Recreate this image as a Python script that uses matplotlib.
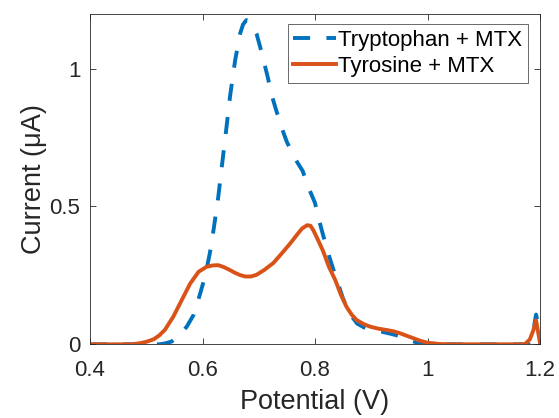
import matplotlib
matplotlib.use("Agg")
import matplotlib.pyplot as plt

# Tryptophan + MTX (dashed blue)
trp_x = [0.40, 0.50, 0.515, 0.524, 0.535, 0.545, 0.558, 0.572, 0.584, 0.596, 0.601, 0.607,
         0.613, 0.62, 0.628, 0.635, 0.642, 0.649, 0.658, 0.667, 0.672, 0.678, 0.685, 0.69,
         0.696, 0.705, 0.716, 0.723, 0.731, 0.741, 0.750, 0.764, 0.778, 0.789, 0.80, 0.806,
         0.812, 0.822, 0.832, 0.841, 0.85, 0.862, 0.875, 0.89, 0.905, 0.92, 0.935, 0.95,
         0.965, 0.985, 1.0, 1.05, 1.10, 1.15, 1.178, 1.184, 1.189, 1.193, 1.197, 1.20]
trp_y = [0.0, 0.0, 0.0, 0.0, 0.004, 0.01, 0.03, 0.064, 0.106, 0.185, 0.221, 0.27,
         0.33, 0.42, 0.534, 0.656, 0.776, 0.90, 1.03, 1.128, 1.16, 1.176, 1.168, 1.15,
         1.127, 1.06, 0.969, 0.904, 0.849, 0.784, 0.734, 0.675, 0.629, 0.566, 0.513, 0.46,
         0.414, 0.34, 0.275, 0.22, 0.165, 0.11, 0.075, 0.058, 0.05, 0.045, 0.038, 0.03,
         0.018, 0.003, 0.0, 0.0, 0.0, 0.0, 0.0, 0.02, 0.06, 0.108, 0.07, 0.02]

# Tyrosine + MTX (solid orange)
tyr_x = [0.40, 0.475, 0.489, 0.50, 0.513, 0.523, 0.533, 0.548, 0.563, 0.578, 0.593, 0.607,
         0.618, 0.628, 0.638, 0.649, 0.658, 0.667, 0.676, 0.686, 0.696, 0.71, 0.726,
         0.741, 0.756, 0.767, 0.777, 0.786, 0.792, 0.797, 0.805, 0.814, 0.825, 0.836, 0.846,
         0.856, 0.865, 0.874, 0.886, 0.898, 0.912, 0.927, 0.94, 0.951, 0.963, 0.975, 0.987,
         0.999, 1.022, 1.05, 1.10, 1.15, 1.173, 1.182, 1.188, 1.193, 1.197, 1.20]
tyr_y = [0.0, 0.0, 0.004, 0.009, 0.018, 0.032, 0.052, 0.10, 0.16, 0.22, 0.263, 0.281,
         0.286, 0.287, 0.28, 0.269, 0.259, 0.251, 0.246, 0.246, 0.252, 0.27, 0.295,
         0.33, 0.366, 0.395, 0.42, 0.432, 0.43, 0.414, 0.38, 0.34, 0.28, 0.233, 0.18,
         0.136, 0.108, 0.088, 0.074, 0.064, 0.057, 0.052, 0.047, 0.04, 0.031, 0.022, 0.013,
         0.006, 0.001, 0.0, 0.0, 0.0, 0.0, 0.018, 0.05, 0.087, 0.04, 0.005]

xticks = [0.4, 0.6, 0.8, 1.0, 1.2]
xticklabels = ["0.4", "0.6", "0.8", "1", "1.2"]
yticks = [0, 0.5, 1.0]
yticklabels = ["0", "0.5", "1"]

plt.rcParams["font.family"] = ["Liberation Sans", "DejaVu Sans"]
TXT = "#262626"

fig = plt.figure(figsize=(5.59, 4.18), dpi=100)
ax = fig.add_axes([90 / 559, (418 - 344.3) / 418, 450 / 559, 330.8 / 418])

ax.plot(trp_x, trp_y, color="#0072BD", lw=2.8, ls=(0, (4.4, 4.2)),
        label="Tryptophan + MTX")
ax.plot(tyr_x, tyr_y, color="#D95319", lw=2.8, label="Tyrosine + MTX")

ax.set_xlim(0.4, 1.2)
ax.set_ylim(0, 1.2)
ax.set_xticks(xticks)
ax.set_xticklabels(xticklabels)
ax.set_yticks(yticks)
ax.set_yticklabels(yticklabels)
ax.tick_params(direction="in", length=4, width=0.6, colors=TXT, labelsize=16,
               top=True, right=True)
ax.tick_params(axis="x", pad=11)
ax.tick_params(axis="y", pad=7)
for s in ax.spines.values():
    s.set_color(TXT)
    s.set_linewidth(0.6)

ax.set_xlabel("Potential (V)", fontsize=19.5, color=TXT, labelpad=6)
ax.set_ylabel("Current (μA)", fontsize=19.5, color=TXT, labelpad=2)

leg = ax.legend(loc="upper right", bbox_to_anchor=(0.973, 0.968), fontsize=16,
                frameon=True, fancybox=False, handlelength=1.9, handletextpad=0.12,
                borderpad=0.25, labelspacing=0.25, borderaxespad=0)
leg.get_frame().set_edgecolor(TXT)
leg.get_frame().set_linewidth(0.6)
for t in leg.get_texts():
    t.set_color("black")

fig.savefig("out.png", dpi=100)
